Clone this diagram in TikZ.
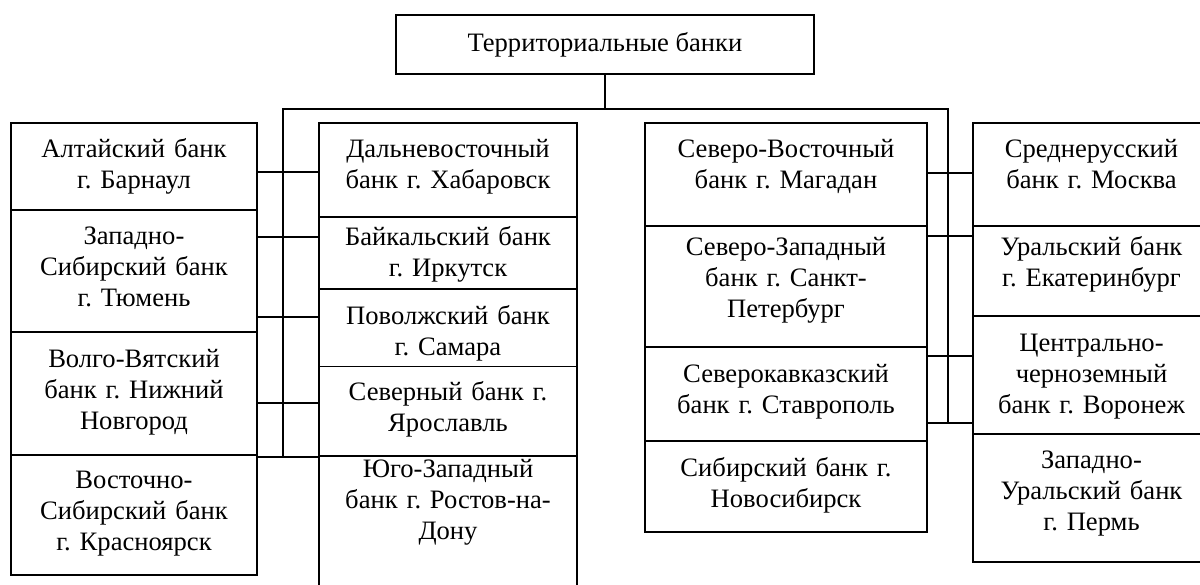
\documentclass[tikz,border=0pt]{standalone}
\usepackage{fontspec}
\setmainfont{Liberation Serif}
\frenchspacing
\usetikzlibrary{
  calc,
  positioning,
}

\begin{document}
\begin{tikzpicture}[
    x = 0.5pt,
    y = -0.5pt,
    line width=0.9pt,
    f/.style={font=\fontsize{13.3}{15.5}\selectfont\frenchspacing},
    n/.style={
      f, draw, anchor=north, align=center,
      inner sep=0pt, outer sep=0pt, text height=17pt,
    },
    ttl/.style={
      f, draw, minimum width=209pt, minimum height=29.5pt,
      inner sep=0pt, outer sep=0pt,
    },
    w1/.style={text width=123pt},
    w2/.style={text width=129pt},
    w3/.style={text width=141pt},
    w4/.style={text width=118.5pt},]
  \useasboundingbox (0,0) rectangle (1200,584);
  \clip (0,0) rectangle (1200,584);
  \node[ttl](Top) at (605,44.5) {Территориальные банки};
  %% first column
  \node[n,w1,text depth=26.5pt](Altai) at (134,123)
  {Алтайский банк\\г. Барнаул};
  \node[n,w1,text depth=44pt,below=0pt of Altai](ZapSib)
  {Западно-\\Сибирский банк\\г. Тюмень};
  \node[n,w1,text height=17.5pt,text depth=44pt,below=0pt of ZapSib](Volgo)
  {Волго-Вятский\\банк г. Нижний\\Новгород};
  \node[n,w1,text height=16.5pt,text depth=43.5pt,below=0pt of Volgo](VostSib)
  {Восточно-\\Сибирский банк\\г. Красноярск};
  %% second column
  \node[n,w2,text depth=30pt](Dalnevost) at (448,123)
  {Дальневосточный\\банк г. Хабаровск};
  \node[n,w2,text height=14pt,text depth=22pt,below=0pt of Dalnevost](Baikal)
  {Байкальский банк\\г. Иркутск};
  \node[n,w2,text height=17.5pt,text depth=21.25pt,below=0pt of Baikal](Povolzh)
  {Поволжский банк\\г. Самара};
  \node[n,w2,text depth=27.75pt,below=0pt of Povolzh](Severny)
  {Северный банк г.\\Ярославль};
  \node[n,w2,text height=10.5pt,text depth=61.5pt,below=0pt of Severny](Yugo)
  {Юго-Западный\\банк г. Ростов-на-\\Дону};
  %% third column
  \node[n,w3,text depth=34.5pt](SevVost) at (786,123)
  {Северо-Восточный\\банк г. Магадан};
  \node[n,w3,text height=14.5pt,text depth=46pt,below=0pt of SevVost](SevZap)
  {Северо-Западный\\банк г. Санкт-\\Петербург};
  \node[n,w3,text height=17.5pt,text depth=29.5pt,below=0pt of SevZap](SevKavk)
  {Северокавказский\\банк г. Ставрополь};
  \node[n,w3,text height=17.5pt,text depth=28pt,below=0pt of SevKavk](Sibir)
  {Сибирский банк г.\\Новосибирск};
  %% fourth column
  \node[n,w4,text depth=34.5pt](Sredne) at (1091.5,123)
  {Среднерусский\\банк г. Москва};
  \node[n,w4,text height=14.5pt,text depth=30.5pt,below=0pt of Sredne](Ural)
  {Уральский банк\\г. Екатеринбург};
  \node[n,w4,text height=17.5pt,text depth=41.5pt,below=0pt of Ural](Central)
  {Центрально-\\черноземный\\банк г. Воронеж};
  \node[n,w4,text depth=47pt,below=0pt of Central](ZapUral)
  {Западно-\\Уральский банк\\г. Пермь};
  %%
  \coordinate (busL) at (283,109);
  \coordinate (busR) at (948,109);
  \draw (Top.south) -- (Top.south |- busL);
  \draw (busL |- Yugo.north) -- (busL) -- (busR) -- (busR |- 0,423);
  %%
  \foreach \y in {172,237,317,403,457}
  \draw (Altai.east |- 0,\y) -- (Dalnevost.west |- 0,\y);
  \foreach \y in {173,236,356,423}
  \draw (SevVost.east |- 0,\y) -- (Sredne.west |- 0,\y);
\end{tikzpicture}
\end{document}
